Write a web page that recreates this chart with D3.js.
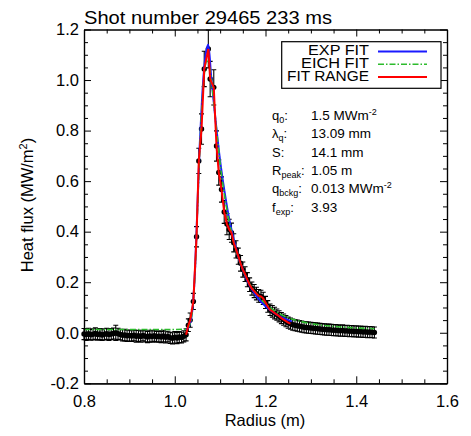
<!DOCTYPE html>
<html>
<head>
<meta charset="utf-8">
<script src="https://cdn.jsdelivr.net/npm/d3@7"></script>
<style>
body { margin: 0; background: #fff; }
text { font-family: "Liberation Sans", Arial, sans-serif; fill: #000; }
</style>
</head>
<body>
<script>
var title = "Shot number 29465 233 ms";

var radius = [
  0.800,0.805,0.810,0.815,0.820,0.825,0.830,0.835,0.840,0.845,
  0.850,0.855,0.860,0.865,0.870,0.875,0.880,0.885,0.890,0.895,
  0.900,0.905,0.910,0.915,0.920,0.925,0.930,0.935,0.940,0.945,
  0.950,0.955,0.960,0.965,0.970,0.975,0.980,0.985,0.990,0.995,
  1.000,1.005,1.010,1.015,1.020,1.025,
  1.030,1.034,1.041,1.048,1.053,1.059,1.065,1.074,1.078,1.086,1.092,1.097,1.103,1.109,
  1.115,1.120,1.125,1.130,1.135,1.140,1.145,1.150,1.155,1.160,
  1.165,1.170,1.175,1.180,1.185,1.190,1.195,1.200,1.205,1.210,
  1.215,1.220,1.225,1.230,1.235,1.240,1.245,1.250,1.255,1.260,
  1.265,1.270,1.275,1.280,1.285,1.290,1.295,1.300,1.305,1.310,
  1.315,1.320,1.325,1.330,1.335,1.340,1.345,1.350,1.355,1.360,
  1.365,1.370,1.375,1.380,1.385,1.390,1.395,1.400,1.405,1.410,
  1.415,1.420,1.425,1.430,1.435,1.440
];

var heatFlux = [
  -0.005,-0.007,-0.004,-0.008,-0.006,-0.003,-0.007,-0.005,-0.009,-0.006,
  -0.004,-0.007,-0.005,-0.003,0.000,-0.004,-0.007,-0.010,-0.009,-0.012,
  -0.011,-0.013,-0.010,-0.014,-0.012,-0.015,-0.011,-0.014,-0.017,-0.013,
  -0.015,-0.012,-0.016,-0.014,-0.017,-0.013,-0.018,-0.015,-0.020,-0.022,
  -0.018,-0.021,-0.017,-0.019,-0.014,-0.008,
  0.030,0.050,0.124,0.380,0.680,0.806,1.044,1.123,1.004,0.971,0.739,0.634,0.567,0.478,
  0.430,0.409,0.396,0.356,0.330,0.303,0.275,0.250,0.232,0.210,
  0.190,0.175,0.165,0.155,0.146,0.144,0.136,0.120,0.104,0.091,
  0.085,0.078,0.072,0.065,0.058,0.052,0.046,0.040,0.036,0.032,
  0.030,0.028,0.026,0.024,0.022,0.021,0.020,0.019,0.018,0.017,
  0.016,0.015,0.014,0.013,0.012,0.012,0.011,0.010,0.010,0.009,
  0.008,0.009,0.007,0.008,0.006,0.007,0.005,0.006,0.004,0.005,
  0.003,0.004,0.002,0.003,0.002,0.001
];

var fluxError = [
  0.022,0.023,0.022,0.021,0.022,0.023,0.022,0.022,0.021,0.022,
  0.022,0.023,0.022,0.022,0.030,0.022,0.021,0.022,0.023,0.022,
  0.022,0.021,0.022,0.023,0.022,0.022,0.021,0.022,0.022,0.023,
  0.022,0.022,0.021,0.022,0.022,0.023,0.022,0.021,0.022,0.022,
  0.023,0.022,0.022,0.021,0.022,0.024,
  0.025,0.028,0.032,0.040,0.050,0.060,0.070,0.075,0.070,0.070,0.060,0.050,0.050,0.045,
  0.042,0.040,0.038,0.036,0.034,0.032,0.031,0.030,0.029,0.028,
  0.027,0.026,0.026,0.025,0.025,0.024,0.024,0.024,0.023,0.023,
  0.023,0.023,0.022,0.022,0.022,0.022,0.022,0.022,0.022,0.022,
  0.022,0.022,0.022,0.022,0.022,0.022,0.022,0.022,0.022,0.022,
  0.022,0.022,0.022,0.022,0.022,0.022,0.022,0.022,0.022,0.022,
  0.022,0.022,0.022,0.022,0.022,0.022,0.022,0.022,0.022,0.022,
  0.022,0.022,0.022,0.022,0.022,0.022
];

var fitRange = [1.025, 1.258];

var eichRadius = [0.80,1.00,1.02,1.03,1.035,1.04,1.045,1.05,1.055,1.06,1.065,1.07,1.075,1.08,1.085,
  1.09,1.10,1.11,1.12,1.13,1.14,1.15,1.16,1.18,1.20,1.22,1.25,1.28,1.32,1.36,1.40,1.44];
var eichFlux = [0.013,0.013,0.014,0.022,0.045,0.11,0.25,0.48,0.72,0.90,1.02,1.075,1.065,1.01,0.93,
  0.84,0.67,0.54,0.44,0.36,0.30,0.25,0.21,0.155,0.115,0.087,0.060,0.044,0.031,0.024,0.019,0.016];

var expRadius = [1.025,1.03,1.035,1.04,1.045,1.05,1.055,1.06,1.065,1.07,1.074,1.08,1.09,1.10,1.11,
  1.12,1.13,1.14,1.15,1.16,1.18,1.20,1.22,1.24,1.258];
var expFlux = [0.013,0.02,0.045,0.11,0.26,0.50,0.74,0.92,1.05,1.12,1.14,1.02,0.84,0.68,0.555,
  0.45,0.37,0.30,0.25,0.205,0.145,0.105,0.078,0.058,0.045];

var xTicks = [0.8, 1.0, 1.2, 1.4, 1.6];
var xMinor = [0.85,0.9,0.95,1.05,1.1,1.15,1.25,1.3,1.35,1.45,1.5,1.55];
var yTicks = [-0.2, 0.0, 0.2, 0.4, 0.6, 0.8, 1.0, 1.2];
var yMinor = [-0.15,-0.1,-0.05,0.05,0.1,0.15,0.25,0.3,0.35,0.45,0.5,0.55,0.65,0.7,0.75,0.85,0.9,0.95,1.05,1.1,1.15];

var legendLabels = ["EXP FIT", "EICH FIT", "FIT RANGE"];

// fit parameters: symbol, subscript, value, superscript on unit
var paramSym = ["q", "\u03bb", "S", "R", "q", "f"];
var paramSub = ["0", "q", "", "peak", "bckg", "exp"];
var paramVal = ["1.5 MWm", "13.09 mm", "14.1 mm", "1.05 m", "0.013 MWm", "3.93"];
var paramSup = ["-2", "", "", "", "-2", ""];

var colors = { exp: "#1a1aff", eich: "#2dbb2d", range: "#ff0000" };

var svg = d3.select("body").append("svg")
  .attr("width", 471)
  .attr("height", 436);

var x = d3.scaleLinear().domain([0.8, 1.6]).range([84, 447]);
var y = d3.scaleLinear().domain([-0.2, 1.2]).range([383.3, 29.5]);

var pts = radius.map(function(r, i) {
  return { r: r, q: heatFlux[i], e: fluxError[i] };
});

// error bars
svg.append("g").selectAll("path")
  .data(pts)
  .enter()
  .append("path")
  .attr("d", function(d) {
    var x0 = x(d.r), y1 = y(d.q + d.e), y2 = y(d.q - d.e);
    return "M" + (x0 - 2.5) + "," + y1 + "H" + (x0 + 2.5) +
      "M" + x0 + "," + y1 + "V" + y2 +
      "M" + (x0 - 2.5) + "," + y2 + "H" + (x0 + 2.5);
  })
  .attr("stroke", "#000")
  .attr("stroke-width", 1.1)
  .attr("fill", "none");

svg.append("g").selectAll("circle")
  .data(pts)
  .enter()
  .append("circle")
  .attr("cx", function(d) { return x(d.r); })
  .attr("cy", function(d) { return y(d.q); })
  .attr("r", 2.7)
  .attr("fill", "#000");

var line = d3.line()
  .x(function(d) { return x(d[0]); })
  .y(function(d) { return y(d[1]); });

var smooth = d3.line()
  .x(function(d) { return x(d[0]); })
  .y(function(d) { return y(d[1]); })
  .curve(d3.curveMonotoneX);

svg.append("path")
  .attr("d", smooth(d3.zip(expRadius, expFlux)))
  .attr("fill", "none")
  .attr("stroke", colors.exp)
  .attr("stroke-width", 2);

svg.append("path")
  .attr("d", smooth(d3.zip(eichRadius, eichFlux)))
  .attr("fill", "none")
  .attr("stroke", colors.eich)
  .attr("stroke-width", 1.6)
  .attr("stroke-dasharray", "6,2,1.5,2");

var inRange = pts.filter(function(d) { return d.r >= fitRange[0] && d.r <= fitRange[1]; })
  .map(function(d) { return [d.r, d.q]; });

svg.append("path")
  .attr("d", line(inRange))
  .attr("fill", "none")
  .attr("stroke", colors.range)
  .attr("stroke-width", 2);

// axes, IDL style: ticks inside on all four sides
function styleAxis(g) {
  g.selectAll(".domain").attr("stroke", "#000").attr("stroke-width", 1.2);
  g.selectAll(".tick line").attr("stroke", "#000").attr("stroke-width", 1);
  g.attr("font-family", "Liberation Sans, Arial, sans-serif").attr("font-size", 16.5);
  g.selectAll("text").attr("fill", "#000");
}

var fmt = function(d) { return d.toFixed(1); };

svg.append("g").attr("transform", "translate(0,383.3)")
  .call(d3.axisBottom(x).tickValues(xTicks).tickSize(-7).tickSizeOuter(0).tickPadding(12).tickFormat(fmt))
  .call(styleAxis);
svg.append("g").attr("transform", "translate(0,383.3)")
  .call(d3.axisBottom(x).tickValues(xMinor).tickSize(-4).tickSizeOuter(0).tickFormat(""))
  .call(styleAxis);
svg.append("g").attr("transform", "translate(0,29.5)")
  .call(d3.axisTop(x).tickValues(xTicks).tickSize(-7).tickSizeOuter(0).tickFormat(""))
  .call(styleAxis);
svg.append("g").attr("transform", "translate(0,29.5)")
  .call(d3.axisTop(x).tickValues(xMinor).tickSize(-4).tickSizeOuter(0).tickFormat(""))
  .call(styleAxis);

svg.append("g").attr("transform", "translate(84,0)")
  .call(d3.axisLeft(y).tickValues(yTicks).tickSize(-7).tickSizeOuter(0).tickPadding(5).tickFormat(fmt))
  .call(styleAxis);
svg.append("g").attr("transform", "translate(84,0)")
  .call(d3.axisLeft(y).tickValues(yMinor).tickSize(-4).tickSizeOuter(0).tickFormat(""))
  .call(styleAxis);
svg.append("g").attr("transform", "translate(447,0)")
  .call(d3.axisRight(y).tickValues(yTicks).tickSize(-7).tickSizeOuter(0).tickFormat(""))
  .call(styleAxis);
svg.append("g").attr("transform", "translate(447,0)")
  .call(d3.axisRight(y).tickValues(yMinor).tickSize(-4).tickSizeOuter(0).tickFormat(""))
  .call(styleAxis);

// title and axis labels
svg.append("text")
  .attr("x", 84)
  .attr("y", 24.3)
  .attr("font-size", 17.5)
  .attr("textLength", 248)
  .attr("lengthAdjust", "spacingAndGlyphs")
  .text(title);

svg.append("text")
  .attr("x", 265)
  .attr("y", 426)
  .attr("text-anchor", "middle")
  .attr("font-size", 16.5)
  .text("Radius (m)");

var ylab = svg.append("text")
  .attr("transform", "translate(33,205) rotate(-90)")
  .attr("text-anchor", "middle")
  .attr("font-size", 16.5);
ylab.append("tspan").text("Heat flux (MW/m");
ylab.append("tspan").attr("font-size", 11).attr("dy", -6).text("2");
ylab.append("tspan").attr("dy", 6).text(")");

// legend
svg.append("rect")
  .attr("x", 281.7)
  .attr("y", 41.7)
  .attr("width", 159.3)
  .attr("height", 46.6)
  .attr("fill", "#fff")
  .attr("stroke", "#000")
  .attr("stroke-width", 1.2);

var legendStyles = [
  { color: colors.exp, dash: null, w: 2 },
  { color: colors.eich, dash: "6,2,1.5,2", w: 1.6 },
  { color: colors.range, dash: null, w: 2 }
];

var leg = svg.append("g").selectAll("g")
  .data(legendLabels)
  .enter()
  .append("g")
  .attr("transform", function(d, i) { return "translate(0," + (i * 12.8) + ")"; });

leg.append("text")
  .attr("x", 369)
  .attr("y", 55.3)
  .attr("text-anchor", "end")
  .attr("font-size", 14)
  .attr("textLength", function(d, i) { return [61, 68, 82][i]; })
  .attr("lengthAdjust", "spacingAndGlyphs")
  .text(function(d) { return d; });

leg.append("line")
  .attr("x1", 378)
  .attr("x2", 427)
  .attr("y1", 51.5)
  .attr("y2", 51.5)
  .attr("stroke", function(d, i) { return legendStyles[i].color; })
  .attr("stroke-width", function(d, i) { return legendStyles[i].w; })
  .attr("stroke-dasharray", function(d, i) { return legendStyles[i].dash; });

// fit parameters block
var valueX = 311;
paramSym.forEach(function(s, i) {
  var by = 120 + i * 18.3;
  var lab = svg.append("text")
    .attr("x", 272)
    .attr("y", by)
    .attr("font-size", 13);
  lab.append("tspan").text(s);
  if (paramSub[i]) {
    lab.append("tspan").attr("font-size", 9).attr("dy", 3).text(paramSub[i]);
    lab.append("tspan").attr("dy", -3).text(":");
  } else {
    lab.append("tspan").text(":");
  }
  var end = 272 + lab.node().getComputedTextLength();
  var val = svg.append("text")
    .attr("x", Math.max(valueX, end + 4))
    .attr("y", by)
    .attr("font-size", 13.5);
  val.append("tspan").text(paramVal[i]);
  if (paramSup[i]) {
    val.append("tspan").attr("font-size", 9).attr("dy", -5).text(paramSup[i]);
  }
});
</script>
</body>
</html>
